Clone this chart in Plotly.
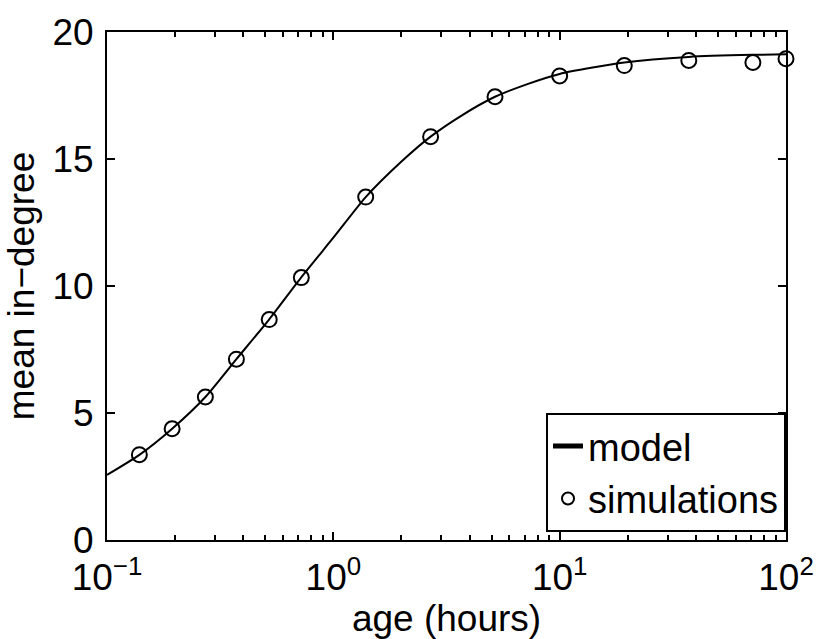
import plotly.graph_objects as go

# Model curve: mean in-degree versus node age (hours)
model_age = [0.1, 0.139, 0.194, 0.272, 0.373, 0.52, 0.72, 1.0, 1.39, 2.0,
             2.69, 3.7, 5.18, 7.2, 10.0, 19.3, 37.2, 71.4, 100.0]
model_indegree = [2.56, 3.35, 4.38, 5.63, 7.12, 8.68, 10.33, 11.9, 13.5, 14.9,
                  15.88, 16.72, 17.45, 17.95, 18.35, 18.8, 19.02, 19.1, 19.12]

# Simulation results
sim_age = [0.139, 0.194, 0.272, 0.373, 0.521, 0.722, 1.39, 2.69, 5.18,
           10.0, 19.3, 37.2, 71.4, 100.0]
sim_indegree = [3.36, 4.38, 5.63, 7.12, 8.68, 10.33, 13.5, 15.88, 17.45,
                18.27, 18.68, 18.88, 18.8, 18.95]

x_tickvals = [0.1, 1, 10, 100]
x_ticktext = ["10<sup>\u22121</sup>", "10<sup>0</sup>", "10<sup>1</sup>", "10<sup>2</sup>"]
y_tickvals = [0, 5, 10, 15, 20]
# minor log ticks: 2..9 within each decade
minor_vals = [m * 10 ** e for e in (-1, 0, 1) for m in range(2, 10)]

FONT = "Liberation Sans, Arial, sans-serif"

fig = go.Figure()
fig.add_trace(go.Scatter(
    x=model_age, y=model_indegree, mode="lines", name="model",
    line=dict(color="black", width=2, shape="spline", smoothing=0.6),
    cliponaxis=False,
))
fig.add_trace(go.Scatter(
    x=sim_age, y=sim_indegree, mode="markers", name="simulations",
    marker=dict(symbol="circle-open", size=15, color="black",
                line=dict(color="black", width=2)),
    cliponaxis=False,
))

axis_common = dict(
    showline=True, linecolor="black", linewidth=2, mirror="ticks",
    ticks="inside", ticklen=8, tickwidth=2, tickcolor="black",
    showgrid=False, zeroline=False,
    tickfont=dict(family=FONT, size=37, color="black"),
    title_font=dict(family=FONT, size=37, color="black"),
)

fig.update_xaxes(
    type="log", range=[-1, 2],
    tickmode="array", tickvals=x_tickvals, ticktext=x_ticktext,
    ticklabelstandoff=4,
    minor=dict(tickmode="array", tickvals=minor_vals, ticks="inside",
               ticklen=5, tickwidth=2, tickcolor="black", showgrid=False),
    title=dict(text="age (hours)", standoff=0),
    **axis_common,
)
fig.update_yaxes(
    range=[0, 20], tickmode="array", tickvals=y_tickvals,
    ticklabelstandoff=4,
    title=dict(text="mean in\u2212degree", standoff=6),
    **axis_common,
)

fig.update_layout(
    width=826, height=639,
    margin=dict(l=107, r=33, t=25, b=99),
    paper_bgcolor="white", plot_bgcolor="white",
    font=dict(family=FONT, size=37, color="black"),
    showlegend=True,
    legend=dict(
        x=1.0, y=0.016, xanchor="right", yanchor="bottom",
        bgcolor="white", bordercolor="black", borderwidth=2,
        font=dict(family=FONT, size=38, color="black"),
        itemsizing="constant", tracegroupgap=0,
    ),
)

fig.write_html("out.html")
